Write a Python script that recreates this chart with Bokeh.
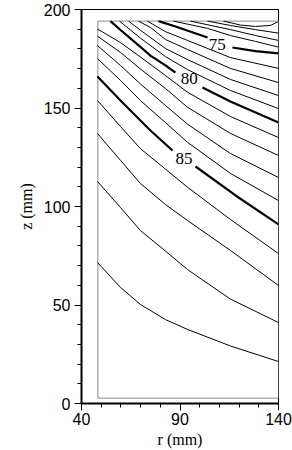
from bokeh.plotting import figure
from bokeh.models import Range1d, FixedTicker, Label
from bokeh.core.properties import value
from bokeh.embed import file_html
from bokeh.resources import INLINE

# ---- data (r in mm, z in mm) ----
r_ticks = [40, 90, 140]
z_ticks = [0, 50, 100, 150, 200]
r_minor = [40, 50, 60, 70, 80, 90, 100, 110, 120, 130, 140]
z_minor = [0, 10, 20, 30, 40, 50, 60, 70, 80, 90, 100, 110, 120, 130, 140, 150, 160, 170, 180, 190, 200]

box_r = [48.3, 140.0]
box_z = [2.7, 194.1]

# thin contour lines (one level step = 1)
c71_r = [112.1, 120.7, 128.3, 135.9, 139.7]
c71_z = [194.1, 192.1, 191.4, 191.9, 193.7]
c72_r = [104.0, 115.6, 128.3, 140.0]
c72_z = [194.1, 191.9, 189.8, 188.0]
c73_r = [95.3, 115.6, 128.3, 140.0]
c73_z = [194.1, 189.8, 186.8, 184.3]
c74_r = [86.7, 104.0, 115.6, 128.3, 140.0]
c74_z = [194.1, 190.4, 186.8, 183.8, 180.9]
c76_r = [73.5, 82.6, 93.8, 115.6, 140.0]
c76_z = [194.1, 188.8, 184.3, 175.6, 170.1]
c77_r = [68.9, 75.0, 82.6, 93.8, 115.6, 140.0]
c77_z = [194.1, 190.9, 184.8, 179.7, 170.1, 162.9]
c78_r = [63.9, 69.9, 82.6, 93.8, 115.6, 140.0]
c78_z = [194.1, 189.5, 180.2, 174.6, 164.5, 156.3]
c79_r = [59.3, 69.9, 82.6, 93.8, 115.6, 140.0]
c79_z = [194.1, 185.5, 176.1, 169.5, 158.9, 149.7]

low_r = [48.1, 59.8, 69.9, 82.6, 93.8, 115.6, 140.0]
c81_z = [190.1, 183.2, 175.9, 166.5, 158.0, 145.7, 135.0]
c82_z = [186.5, 178.2, 169.8, 159.9, 150.4, 137.1, 125.9]
c83_z = [181.7, 171.6, 162.2, 151.3, 141.8, 126.9, 114.7]
c84_z = [175.1, 164.0, 153.8, 142.6, 132.6, 116.8, 103.0]
c86_z = [153.8, 140.6, 129.4, 119.0, 109.8, 93.4, 76.1]
c87_z = [137.1, 123.4, 111.7, 101.0, 92.9, 77.7, 59.9]
c88_z = [112.7, 99.5, 87.8, 77.4, 68.0, 53.0, 41.1]
c89_z = [71.6, 58.9, 50.3, 42.6, 37.6, 29.2, 21.3]

# bold labelled contours (split where the label sits)
c75a_r = [79.1, 87.7, 104.0]
c75a_z = [194.1, 191.4, 185.8]
c75b_r = [116.6, 128.3, 140.0]
c75b_z = [180.7, 178.9, 177.7]
c80a_r = [54.7, 59.8, 69.9, 75.0, 82.6, 87.7]
c80a_z = [194.1, 189.6, 181.0, 176.6, 171.6, 168.0]
c80b_r = [101.4, 115.6, 140.0]
c80b_z = [160.4, 153.3, 142.6]
c85a_r = [48.1, 59.8, 69.9, 75.0, 86.2]
c85a_z = [166.0, 153.8, 143.7, 138.6, 128.4]
c85b_r = [97.9, 118.2, 140.0]
c85b_z = [120.3, 105.6, 90.9]

label_text = ["75", "80", "85"]
label_r = [108.9, 94.7, 92.0]
label_z = [182.1, 164.8, 124.2]

# ---- figure ----
p = figure(width=292, height=450, x_range=Range1d(40, 140), y_range=Range1d(0, 200),
           output_backend="svg", toolbar_location=None, title=None,
           min_border_left=81, min_border_right=14, min_border_top=9, min_border_bottom=47)
p.grid.visible = False
p.background_fill_color = "white"
p.border_fill_color = "white"
p.outline_line_color = "black"
p.outline_line_width = 1

p.xaxis.ticker = FixedTicker(ticks=r_ticks, minor_ticks=r_minor)
p.yaxis.ticker = FixedTicker(ticks=z_ticks, minor_ticks=z_minor)
p.axis.axis_line_width = 2
p.axis.axis_line_color = "black"
p.axis.major_tick_out = 7
p.axis.major_tick_in = 0
p.axis.minor_tick_out = 4
p.axis.minor_tick_in = 0
p.axis.major_tick_line_color = "black"
p.axis.minor_tick_line_color = "black"
p.axis.major_label_text_font = "Liberation Sans"
p.axis.major_label_text_font_size = "16px"
p.axis.major_label_text_color = "black"
p.xaxis.major_label_standoff = 2
p.yaxis.major_label_standoff = 4
p.xaxis.axis_label = "r (mm)"
p.yaxis.axis_label = "z (mm)"
p.axis.axis_label_text_font = "Liberation Serif"
p.axis.axis_label_text_font_size = "16px"
p.axis.axis_label_text_font_style = "normal"
p.axis.axis_label_text_color = "black"
p.xaxis.axis_label_standoff = 3
p.yaxis.axis_label_standoff = 6

p.quad(left=box_r[0], right=box_r[1], bottom=box_z[0], top=box_z[1],
       fill_color=None, line_color="#8c8c8c", line_width=1)

thin_xs = [c71_r, c72_r, c73_r, c74_r, c76_r, c77_r, c78_r, c79_r,
           low_r, low_r, low_r, low_r, low_r, low_r, low_r, low_r]
thin_ys = [c71_z, c72_z, c73_z, c74_z, c76_z, c77_z, c78_z, c79_z,
           c81_z, c82_z, c83_z, c84_z, c86_z, c87_z, c88_z, c89_z]
p.multi_line(xs=thin_xs, ys=thin_ys, line_color="black", line_width=1)

bold_xs = [c75a_r, c75b_r, c80a_r, c80b_r, c85a_r, c85b_r]
bold_ys = [c75a_z, c75b_z, c80a_z, c80b_z, c85a_z, c85b_z]
p.multi_line(xs=bold_xs, ys=bold_ys, line_color="black", line_width=2.2)

p.text(x=label_r, y=label_z, text=label_text, text_font=value("Liberation Serif"),
       text_font_size="17px", text_align="center", text_baseline="middle", text_color="black")

p.add_layout(Label(x=9.8, y=197.6, text="(d)", text_font="Liberation Serif",
                   text_font_size="15px", text_align="center", text_baseline="middle",
                   text_color="black"))

open("out.html", "w").write(file_html(p, INLINE))
